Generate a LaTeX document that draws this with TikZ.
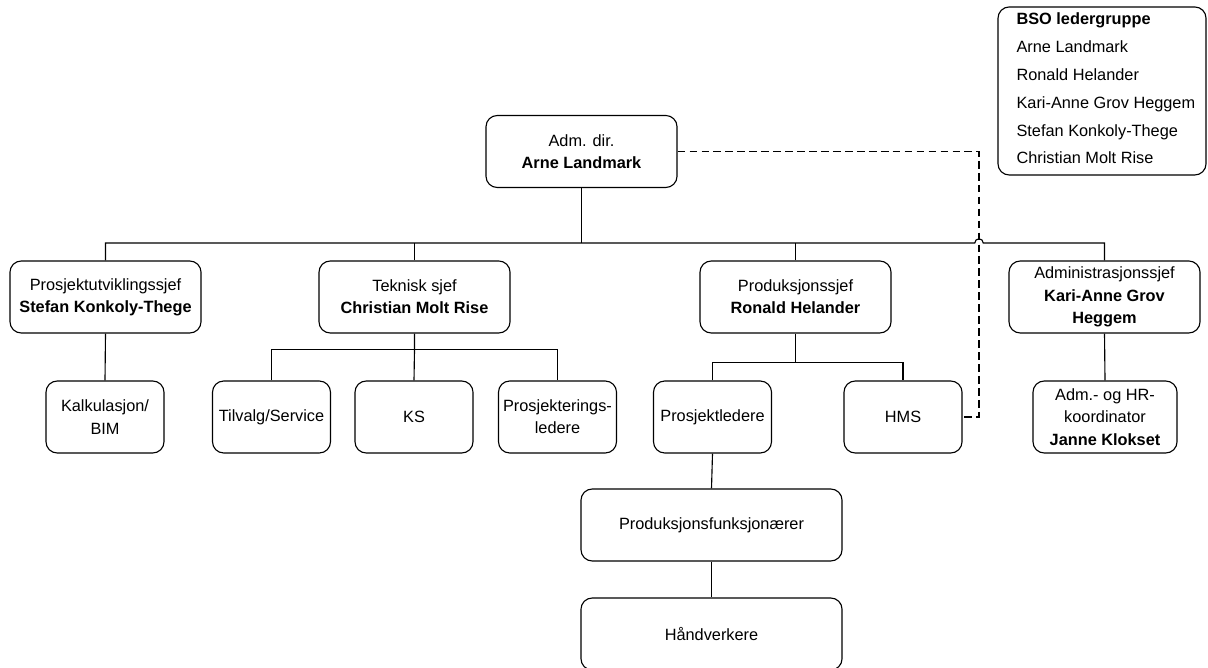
\documentclass[tikz,border=0pt]{standalone}
\usepackage{fontspec}
\setmainfont{Liberation Sans}
\tikzset{
  orgbox/.style={draw, rounded corners=8pt, align=center, minimum width=4.775cm,
    minimum height=1.8cm, inner sep=2pt, font=\fontsize{11.6}{15.8}\selectfont},
  subbox/.style={orgbox, minimum width=2.95cm},
  widebox/.style={orgbox, minimum width=6.525cm},
}
\begin{document}
\begin{tikzpicture}[x=0.025cm, y=0.025cm, line width=0.8pt]
    \useasboundingbox (0,0) rectangle (1208,668);

    % Top
    \node[orgbox] (dir) at (581.5,516.5) {Adm. dir.\\\textbf{Arne Landmark}};

    % Leaders
    \node[orgbox] (utv) at (105.5,371) {Prosjektutviklingssjef\\\textbf{Stefan Konkoly-Thege}};
    \node[orgbox] (tek) at (414.5,371) {Teknisk sjef\\\textbf{Christian Molt Rise}};
    \node[orgbox] (prod) at (795.5,371) {Produksjonssjef\\\textbf{Ronald Helander}};
    \node[orgbox] (adm) at (1104.5,371) {Administrasjonssjef\\\textbf{Kari-Anne Grov}\\\textbf{Heggem}};

    % Departments
    \node[subbox] (kalk) at (105,251) {Kalkulasjon/\\BIM};
    \node[subbox] (tilv) at (271.5,251) {Tilvalg/Service};
    \node[subbox] (ks) at (414,251) {KS};
    \node[subbox] (pled) at (557.5,251) {Prosjekterings-\\ledere};
    \node[subbox] (pl) at (712.5,251) {Prosjektledere};
    \node[subbox] (hms) at (903,251) {HMS};
    \node[subbox, minimum width=3.6cm] (hr) at (1105,251) {Adm.- og HR-\\koordinator\\\textbf{Janne Klokset}};
    \node[widebox] (funk) at (711.5,143) {Produksjonsfunksjonærer};
    \node[widebox] (hand) at (711.5,34) {Håndverkere};

    % Leader group
    \node[draw, rounded corners=8pt, minimum width=5.2cm, minimum height=4.2cm] (bso) at (1102,577) {};
    \node[anchor=west, align=left, inner sep=0pt, font=\fontsize{11.6}{19.8}\selectfont] (bsolist) at (1016,579.5)
      {\textbf{BSO ledergruppe}\\Arne Landmark\\Ronald Helander\\Kari-Anne Grov Heggem\\Stefan Konkoly-Thege\\Christian Molt Rise};

    % Main bus with hop over the dashed line
    \coordinate (hop) at (979,425);
    \draw (utv.north) |- ([xshift=-3pt]hop) arc[start angle=180, end angle=0, radius=3pt] -| (adm.north);
    \draw (dir.south) -- (dir.south |- hop);
    \draw (tek.north) -- (tek.north |- hop);
    \draw (prod.north) -- (prod.north |- hop);

    % Teknisk
    \coordinate (tekj) at (414.5,318.5);
    \draw (tilv.north) |- (tekj) -| (pled.north);
    \draw (tek.south) -- (tekj) -- (ks.north);

    % Produksjon
    \coordinate (prodj) at (795.5,305.5);
    \draw (pl.north) |- (prodj) -| (hms.north);
    \draw (prod.south) -- (prodj);
    \draw (pl.south) -- (funk.north);
    \draw (funk.south) -- (hand.north);

    % Single lines
    \draw (utv.south) -- (kalk.north);
    \draw (adm.south) -- (hr.north);

    % Staff line to HMS
    \draw[dash pattern=on 5.5pt off 3pt] (dir.east) -| (hop |- hms.east) -- (hms.east);
\end{tikzpicture}
\end{document}
